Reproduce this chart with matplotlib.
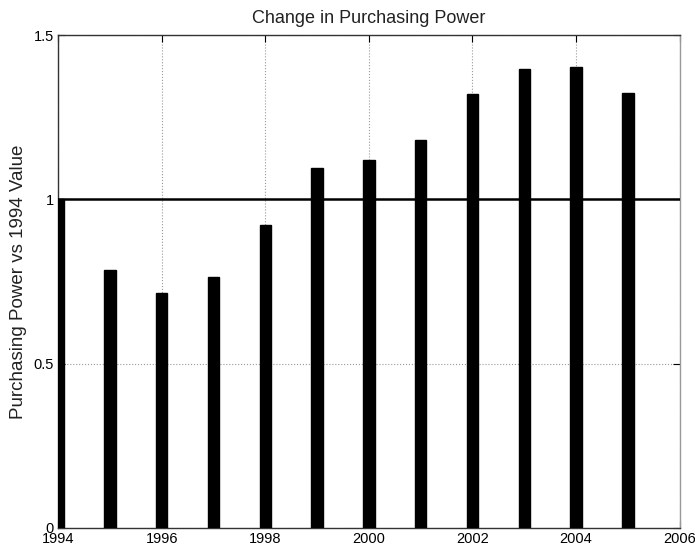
import numpy as np
import matplotlib.pyplot as plt

plt.rcParams['font.family'] = ['Liberation Sans', 'DejaVu Sans']

years = [1994, 1995, 1996, 1997, 1998, 1999, 2000, 2001, 2002, 2003, 2004, 2005]
power = [1.0, 0.785, 0.714, 0.765, 0.922, 1.097, 1.12, 1.18, 1.322, 1.396, 1.403, 1.325]

fig = plt.figure(figsize=(6.95, 5.48), dpi=100)
ax = fig.add_axes([0.0835, 0.0365, 0.8945, 0.8995])

ax.bar(years, power, width=0.22, color="black", edgecolor="black", zorder=3)
ax.axhline(1.0, color="black", linewidth=1.8, zorder=4)

ax.set_xlim(1994, 2006)
ax.set_ylim(0, 1.5)
ax.set_xticks(np.arange(1994, 2007, 2))
ax.set_yticks([0, 0.5, 1, 1.5])
ax.set_yticklabels(["0", "0.5", "1", "1.5"])
ax.tick_params(direction="in", length=5, top=True, right=True, labelsize=10.5, pad=3)
ax.grid(True, linestyle=":", color="#999999", linewidth=0.8, zorder=0)
ax.set_axisbelow(True)

for s in ax.spines.values():
    s.set_linewidth(1.0)
    s.set_color("#333333")
ax.spines["right"].set_color("#999999")

ax.set_title("Change in Purchasing Power", fontsize=13, pad=9, color="#222222")
ax.set_ylabel("Purchasing Power vs 1994 Value", fontsize=13.5, labelpad=5, color="#222222")

fig.savefig("out.png", dpi=100)
